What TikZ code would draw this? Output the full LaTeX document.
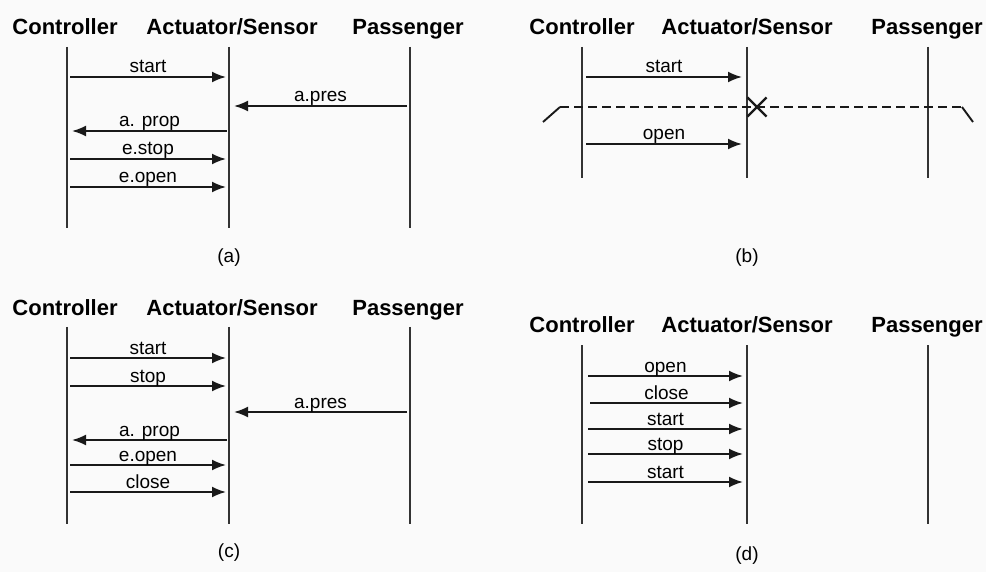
\documentclass[tikz,border=0pt]{standalone}
\usepackage{fontspec}
\setmainfont{Liberation Sans}
\usepackage{tikz}
\usetikzlibrary{arrows.meta}
\usetikzlibrary{shapes.misc}
\usetikzlibrary{positioning}

\begin{document}
\begin{tikzpicture}[x=1pt, y=-1pt,
		hdr/.style={font=\fontsize{22}{24}\selectfont\bfseries, anchor=base, inner sep=0pt},
		lbl/.style={font=\fontsize{19}{21}\selectfont, anchor=base, inner sep=0pt, yshift=4pt},
		subcap/.style={font=\fontsize{19}{21}\selectfont, inner sep=0pt},
		lifeline/.style={line width=1.9pt, draw=black!80},
		msg/.style={line width=1.9pt, draw=black!90, -{Latex[length=14pt, width=11pt]}},
		lost/.style={line width=1.9pt, draw=black!90, dash pattern=on 9pt off 5pt}]
		\useasboundingbox[fill=black!2] (0,0) rectangle (986,572);
		
		% (a)
		\node[hdr] (aCtl) at (65,35) {Controller};
		\node[hdr] (aAct) at (232,35) {Actuator/Sensor};
		\node[hdr] (aPas) at (408,35) {Passenger};
		\coordinate (aCt) at (67,47);
		\coordinate (aCb) at (67,228);
		\coordinate (aAt) at (229,47);
		\coordinate (aAb) at (229,228);
		\coordinate (aPt) at (410,47);
		\coordinate (aPb) at (410,228);
		\draw[lifeline] (aCt) -- (aCb);
		\draw[lifeline] (aAt) -- (aAb);
		\draw[lifeline] (aPt) -- (aPb);
		
		\coordinate (a1) at (70,77);
		\coordinate (a1e) at (226,77);
		\coordinate (a2) at (407,106);
		\coordinate (a2e) at (234,106);
		\coordinate (a3) at (227,131);
		\coordinate (a3e) at (72,131);
		\coordinate (a4) at (70,159);
		\coordinate (a4e) at (226,159);
		\coordinate (a5) at (70,187);
		\coordinate (a5e) at (226,187);
		\draw[msg] (a1) -- node[lbl] {start} (a1e);
		\draw[msg] (a2) -- node[lbl] {a.pres} (a2e);
		\draw[msg] (a3) -- node[lbl] {a. prop} (a3e);
		\draw[msg] (a4) -- node[lbl] {e.stop} (a4e);
		\draw[msg] (a5) -- node[lbl] {e.open} (a5e);
		\node[subcap] (aCap) at (229,258) {(a)};
		
		% (b)
		\node[hdr] (bCtl) at (582,35) {Controller};
		\node[hdr] (bAct) at (747,35) {Actuator/Sensor};
		\node[hdr] (bPas) at (927,35) {Passenger};
		\coordinate (bCt) at (582,47);
		\coordinate (bCb) at (582,178);
		\coordinate (bAt) at (747,47);
		\coordinate (bAb) at (747,178);
		\coordinate (bPt) at (928,47);
		\coordinate (bPb) at (928,178);
		\draw[lifeline] (bCt) -- (bCb);
		\draw[lifeline] (bAt) -- (bAb);
		\draw[lifeline] (bPt) -- (bPb);
		
		\coordinate (b1) at (586,77);
		\coordinate (b1e) at (742,77);
		\coordinate (b2) at (586,144);
		\coordinate (b2e) at (742,144);
		\draw[msg] (b1) -- node[lbl] {start} (b1e);
		\draw[msg] (b2) -- node[lbl] {open} (b2e);
		
		\coordinate (bL0) at (543,122);
		\coordinate (bL1) at (560,107);
		\coordinate (bR1) at (962,107);
		\coordinate (bR0) at (973,122);
		\node[cross out, draw, line width=2.2pt, draw=black!90, minimum size=17pt, inner sep=0pt] (bX) at (757,107) {};
		\draw[line width=1.9pt, draw=black!90] (bL0) -- (bL1);
		\draw[lost] (bL1) -- (bR1);
		\draw[line width=1.9pt, draw=black!90] (bR1) -- (bR0);
		\node[subcap] (bCap) at (747,258) {(b)};
		
		% (c)
		\node[hdr] (cCtl) at (65,316) {Controller};
		\node[hdr] (cAct) at (232,316) {Actuator/Sensor};
		\node[hdr] (cPas) at (408,316) {Passenger};
		\coordinate (cCt) at (67,327);
		\coordinate (cCb) at (67,524);
		\coordinate (cAt) at (229,327);
		\coordinate (cAb) at (229,524);
		\coordinate (cPt) at (410,327);
		\coordinate (cPb) at (410,524);
		\draw[lifeline] (cCt) -- (cCb);
		\draw[lifeline] (cAt) -- (cAb);
		\draw[lifeline] (cPt) -- (cPb);
		
		\coordinate (c1) at (70,358);
		\coordinate (c1e) at (226,358);
		\coordinate (c2) at (70,386);
		\coordinate (c2e) at (226,386);
		\coordinate (c3) at (407,412);
		\coordinate (c3e) at (234,412);
		\coordinate (c4) at (227,440);
		\coordinate (c4e) at (72,440);
		\coordinate (c5) at (70,465);
		\coordinate (c5e) at (226,465);
		\coordinate (c6) at (70,492);
		\coordinate (c6e) at (226,492);
		\draw[msg] (c1) -- node[lbl] {start} (c1e);
		\draw[msg] (c2) -- node[lbl] {stop} (c2e);
		\draw[msg] (c3) -- node[lbl] {a.pres} (c3e);
		\draw[msg] (c4) -- node[lbl] {a. prop} (c4e);
		\draw[msg] (c5) -- node[lbl] {e.open} (c5e);
		\draw[msg] (c6) -- node[lbl] {close} (c6e);
		\node[subcap] (cCap) at (229,553) {(c)};
		
		% (d)
		\node[hdr] (dCtl) at (582,332) {Controller};
		\node[hdr] (dAct) at (747,332) {Actuator/Sensor};
		\node[hdr] (dPas) at (927,332) {Passenger};
		\coordinate (dCt) at (582,345);
		\coordinate (dCb) at (582,524);
		\coordinate (dAt) at (747,345);
		\coordinate (dAb) at (747,524);
		\coordinate (dPt) at (928,345);
		\coordinate (dPb) at (928,524);
		\draw[lifeline] (dCt) -- (dCb);
		\draw[lifeline] (dAt) -- (dAb);
		\draw[lifeline] (dPt) -- (dPb);
		
		\coordinate (d1) at (588,376);
		\coordinate (d1e) at (743,376);
		\coordinate (d2) at (590,403);
		\coordinate (d2e) at (743,403);
		\coordinate (d3) at (588,429);
		\coordinate (d3e) at (743,429);
		\coordinate (d4) at (588,454);
		\coordinate (d4e) at (743,454);
		\coordinate (d5) at (588,482);
		\coordinate (d5e) at (743,482);
		\draw[msg] (d1) -- node[lbl] {open} (d1e);
		\draw[msg] (d2) -- node[lbl] {close} (d2e);
		\draw[msg] (d3) -- node[lbl] {start} (d3e);
		\draw[msg] (d4) -- node[lbl] {stop} (d4e);
		\draw[msg] (d5) -- node[lbl] {start} (d5e);
		\node[subcap] (dCap) at (747,556) {(d)};
\end{tikzpicture}
\end{document}
